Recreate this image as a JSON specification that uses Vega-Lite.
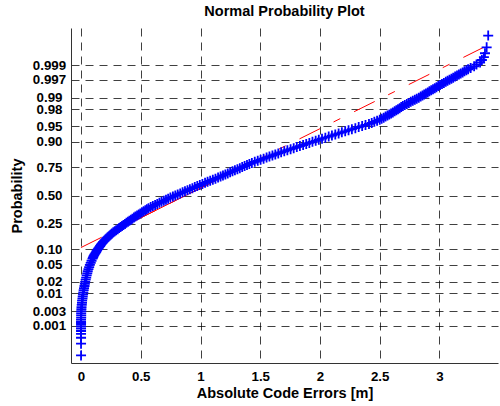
{
  "$schema": "https://vega.github.io/schema/vega-lite/v6.json",
  "width": 427,
  "height": 335,
  "autosize": {"type": "none"},
  "padding": {"left": 71, "top": 28, "right": 2, "bottom": 43},
  "background": "white",
  "title": {"text": "Normal Probability Plot", "font": "Liberation Sans", "fontSize": 14.5, "fontWeight": "bold", "color": "black", "anchor": "middle", "baseline": "alphabetic", "offset": 10.7, "dy": 14.5},
  "config": {
    "view": {"stroke": null},
    "axis": {
      "labelFont": "Liberation Sans", "labelFontSize": 13.3, "labelFontWeight": "bold", "labelColor": "black",
      "titleFont": "Liberation Sans", "titleFontSize": 14.5, "titleFontWeight": "bold", "titleColor": "black",
      "grid": true, "gridColor": "#000000", "gridOpacity": 0.75, "gridDash": [8, 6], "gridWidth": 1,
      "ticks": false, "tickSize": 0, "domainColor": "#333333", "domainWidth": 1,
      "labelOverlap": false, "labelBound": false, "labelFlush": false
    }
  },
  "datasets": {
    "refline": [{"error": 0, "z": -1.236}, {"error": 3.408, "z": 3.575}],
    "quartiles": [{"error": 0.3977, "z": -0.6745}, {"error": 1.3533, "z": 0.6745}],
    "samples": [
      {"error":0,"z":-3.8},{"error":0,"z":-3.52},{"error":0,"z":-3.38},{"error":0,"z":-3.29},{"error":0,"z":-3.22},
      {"error":0,"z":-3.16},{"error":0,"z":-3.11},{"error":0,"z":-3.07},{"error":0,"z":-3.03},{"error":0,"z":-3.0},
      {"error":0,"z":-2.95},{"error":0.001,"z":-2.9},{"error":0.001,"z":-2.85},{"error":0.001,"z":-2.8},{"error":0.002,"z":-2.75},
      {"error":0.003,"z":-2.7},{"error":0.004,"z":-2.65},{"error":0.006,"z":-2.6},{"error":0.008,"z":-2.55},{"error":0.009,"z":-2.5},
      {"error":0.012,"z":-2.45},{"error":0.014,"z":-2.4},{"error":0.017,"z":-2.35},{"error":0.019,"z":-2.3},
      {"error":0.022,"z":-2.25},{"error":0.025,"z":-2.2},{"error":0.029,"z":-2.15},{"error":0.032,"z":-2.1},{"error":0.035,"z":-2.05},
      {"error":0.039,"z":-2.0},{"error":0.043,"z":-1.95},{"error":0.047,"z":-1.9},{"error":0.052,"z":-1.85},{"error":0.056,"z":-1.8},
      {"error":0.062,"z":-1.75},{"error":0.068,"z":-1.7},{"error":0.074,"z":-1.65},
      {"error":0.081,"z":-1.6},{"error":0.088,"z":-1.55},{"error":0.096,"z":-1.5},
      {"error":0.1,"z":-1.475},{"error":0.104,"z":-1.45},{"error":0.109,"z":-1.425},{"error":0.114,"z":-1.4},
      {"error":0.119,"z":-1.375},{"error":0.125,"z":-1.35},{"error":0.13,"z":-1.325},{"error":0.135,"z":-1.3},
      {"error":0.141,"z":-1.275},{"error":0.147,"z":-1.25},{"error":0.153,"z":-1.225},{"error":0.16,"z":-1.2},
      {"error":0.166,"z":-1.175},{"error":0.172,"z":-1.15},{"error":0.179,"z":-1.125},{"error":0.185,"z":-1.1},
      {"error":0.194,"z":-1.075},{"error":0.203,"z":-1.05},{"error":0.212,"z":-1.025},{"error":0.222,"z":-1.0},
      {"error":0.231,"z":-0.975},{"error":0.24,"z":-0.95},{"error":0.249,"z":-0.925},{"error":0.258,"z":-0.9},
      {"error":0.27,"z":-0.875},{"error":0.282,"z":-0.85},{"error":0.294,"z":-0.825},{"error":0.307,"z":-0.8},
      {"error":0.319,"z":-0.775},{"error":0.331,"z":-0.75},{"error":0.343,"z":-0.725},{"error":0.355,"z":-0.7},
      {"error":0.368,"z":-0.675},{"error":0.38,"z":-0.65},{"error":0.393,"z":-0.625},{"error":0.405,"z":-0.6},
      {"error":0.418,"z":-0.575},{"error":0.43,"z":-0.55},{"error":0.443,"z":-0.525},{"error":0.455,"z":-0.5},
      {"error":0.469,"z":-0.475},{"error":0.483,"z":-0.45},{"error":0.496,"z":-0.425},{"error":0.51,"z":-0.4},
      {"error":0.524,"z":-0.375},{"error":0.538,"z":-0.35},{"error":0.551,"z":-0.325},{"error":0.565,"z":-0.3},
      {"error":0.583,"z":-0.275},{"error":0.601,"z":-0.25},{"error":0.62,"z":-0.225},{"error":0.638,"z":-0.2},
      {"error":0.656,"z":-0.175},{"error":0.674,"z":-0.15},{"error":0.693,"z":-0.125},{"error":0.711,"z":-0.1},
      {"error":0.729,"z":-0.075},{"error":0.748,"z":-0.05},{"error":0.769,"z":-0.025},{"error":0.789,"z":0.0},
      {"error":0.809,"z":0.025},{"error":0.83,"z":0.05},{"error":0.85,"z":0.075},{"error":0.87,"z":0.1},
      {"error":0.891,"z":0.125},{"error":0.911,"z":0.15},{"error":0.932,"z":0.175},{"error":0.952,"z":0.2},
      {"error":0.973,"z":0.225},{"error":0.994,"z":0.25},{"error":1.016,"z":0.275},{"error":1.038,"z":0.3},
      {"error":1.059,"z":0.325},{"error":1.081,"z":0.35},{"error":1.103,"z":0.375},{"error":1.125,"z":0.4},
      {"error":1.147,"z":0.425},{"error":1.168,"z":0.45},{"error":1.188,"z":0.475},{"error":1.208,"z":0.5},
      {"error":1.228,"z":0.525},{"error":1.248,"z":0.55},{"error":1.268,"z":0.575},{"error":1.288,"z":0.6},
      {"error":1.309,"z":0.625},{"error":1.329,"z":0.65},{"error":1.349,"z":0.675},{"error":1.369,"z":0.7},
      {"error":1.389,"z":0.725},{"error":1.409,"z":0.75},{"error":1.43,"z":0.775},{"error":1.454,"z":0.8},
      {"error":1.479,"z":0.825},{"error":1.503,"z":0.85},{"error":1.528,"z":0.875},{"error":1.553,"z":0.9},
      {"error":1.577,"z":0.925},{"error":1.602,"z":0.95},{"error":1.626,"z":0.975},{"error":1.651,"z":1.0},
      {"error":1.675,"z":1.025},{"error":1.701,"z":1.05},{"error":1.727,"z":1.075},{"error":1.754,"z":1.1},
      {"error":1.78,"z":1.125},{"error":1.806,"z":1.15},{"error":1.832,"z":1.175},{"error":1.859,"z":1.2},
      {"error":1.885,"z":1.225},{"error":1.911,"z":1.25},{"error":1.937,"z":1.275},{"error":1.964,"z":1.3},
      {"error":1.99,"z":1.325},{"error":2.017,"z":1.35},{"error":2.045,"z":1.375},{"error":2.073,"z":1.4},
      {"error":2.1,"z":1.425},{"error":2.128,"z":1.45},{"error":2.156,"z":1.475},{"error":2.183,"z":1.5},
      {"error":2.211,"z":1.525},{"error":2.239,"z":1.55},{"error":2.267,"z":1.575},{"error":2.296,"z":1.6},
      {"error":2.324,"z":1.625},{"error":2.353,"z":1.65},{"error":2.381,"z":1.675},{"error":2.41,"z":1.7},
      {"error":2.433,"z":1.725},{"error":2.455,"z":1.75},{"error":2.478,"z":1.775},{"error":2.5,"z":1.8},
      {"error":2.516,"z":1.825},{"error":2.533,"z":1.85},{"error":2.549,"z":1.875},{"error":2.565,"z":1.9},
      {"error":2.58,"z":1.925},{"error":2.595,"z":1.95},{"error":2.61,"z":1.975},{"error":2.625,"z":2.0},
      {"error":2.639,"z":2.025},{"error":2.653,"z":2.05},{"error":2.667,"z":2.075},{"error":2.68,"z":2.1},
      {"error":2.694,"z":2.125},{"error":2.71,"z":2.15},{"error":2.727,"z":2.175},{"error":2.744,"z":2.2},
      {"error":2.76,"z":2.225},{"error":2.777,"z":2.25},{"error":2.794,"z":2.275},{"error":2.81,"z":2.3},
      {"error":2.827,"z":2.325},{"error":2.843,"z":2.35},{"error":2.858,"z":2.375},{"error":2.872,"z":2.4},
      {"error":2.887,"z":2.425},{"error":2.902,"z":2.45},{"error":2.916,"z":2.475},{"error":2.931,"z":2.5},
      {"error":2.946,"z":2.525},{"error":2.961,"z":2.55},{"error":2.975,"z":2.575},{"error":2.99,"z":2.6},
      {"error":3.005,"z":2.625},{"error":3.021,"z":2.65},{"error":3.037,"z":2.675},{"error":3.053,"z":2.7},
      {"error":3.068,"z":2.725},{"error":3.084,"z":2.75},{"error":3.1,"z":2.775},{"error":3.115,"z":2.8},
      {"error":3.131,"z":2.825},{"error":3.147,"z":2.85},{"error":3.163,"z":2.875},{"error":3.178,"z":2.9},
      {"error":3.194,"z":2.925},{"error":3.209,"z":2.95},{"error":3.225,"z":2.975},{"error":3.24,"z":3.0},
      {"error":3.261,"z":3.03},{"error":3.29,"z":3.07},{"error":3.31,"z":3.11},{"error":3.34,"z":3.16},
      {"error":3.355,"z":3.22},{"error":3.372,"z":3.29},{"error":3.381,"z":3.38},{"error":3.395,"z":3.52},
      {"error":3.408,"z":3.8}
    ]
  },
  "encoding": {
    "x": {
      "field": "error", "type": "quantitative",
      "scale": {"domain": [-0.084, 3.49], "nice": false, "zero": false},
      "axis": {"title": "Absolute Code Errors [m]", "values": [0, 0.5, 1, 1.5, 2, 2.5, 3], "format": "~g", "labelPadding": 6, "titlePadding": 4}
    },
    "y": {
      "field": "z", "type": "quantitative",
      "scale": {"domain": [-3.98, 3.98], "nice": false, "zero": false},
      "axis": {
        "title": "Probability",
        "values": [-3.0902, -2.7478, -2.3263, -2.0537, -1.6449, -1.2816, -0.6745, 0, 0.6745, 1.2816, 1.6449, 2.0537, 2.3263, 2.7478, 3.0902],
        "labelExpr": "datum.value < -2.9 ? '0.001' : datum.value < -2.5 ? '0.003' : datum.value < -2.2 ? '0.01' : datum.value < -1.9 ? '0.02' : datum.value < -1.5 ? '0.05' : datum.value < -1 ? '0.10' : datum.value < -0.5 ? '0.25' : datum.value < 0.5 ? '0.50' : datum.value < 1 ? '0.75' : datum.value < 1.5 ? '0.90' : datum.value < 1.9 ? '0.95' : datum.value < 2.2 ? '0.98' : datum.value < 2.5 ? '0.99' : datum.value < 2.9 ? '0.997' : '0.999'",
        "labelAlign": "center", "labelBaseline": "middle", "labelPadding": 22, "titlePadding": 8
      }
    }
  },
  "layer": [
    {"data": {"name": "refline"}, "mark": {"type": "line", "color": "#ff0000", "strokeWidth": 1, "strokeDash": [23, 15, 7.5, 15.5]}},
    {"data": {"name": "quartiles"}, "mark": {"type": "line", "color": "#ff0000", "strokeWidth": 1}},
    {"data": {"name": "samples"}, "mark": {"type": "point", "shape": "M-1,0L1,0M0,-1L0,1", "filled": false, "stroke": "#0000ff", "strokeWidth": 1.8, "size": 100, "opacity": 1}}
  ]
}
